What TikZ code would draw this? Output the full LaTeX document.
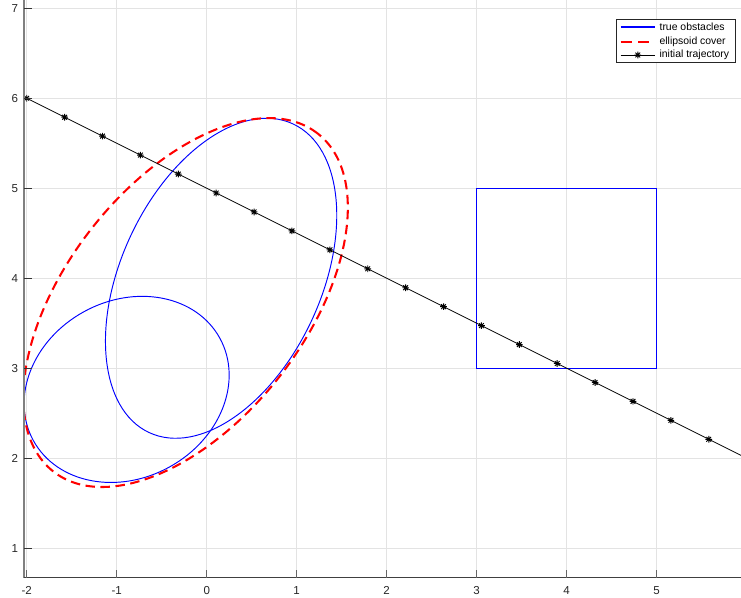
\documentclass[tikz,border=0pt]{standalone}
\usepackage{fontspec}
\setmainfont{Liberation Sans}
\usepackage{tikz}
\usetikzlibrary{positioning, calc}

\begin{document}
\begin{tikzpicture}[x=2cm, y=2cm,
  obst/.style={draw=blue, line width=0.6pt},
  cover/.style={draw=red, line width=1.3pt, dash pattern=on 6pt off 3.5pt},
  traj/.style={draw=black, line width=0.5pt},
  gridline/.style={draw=black!11, line width=0.5pt},
  ticklbl/.style={font=\fontsize{7.3}{8}\selectfont, text=black!85, inner sep=0pt},
  legtxt/.style={font=\fontsize{6.6}{7}\selectfont, anchor=west, inner sep=0pt},
  trajmark/.pic={\draw[line width=0.6pt] (-2.1pt,0pt) -- (2.1pt,0pt) (0pt,-2.1pt) -- (0pt,2.1pt)
      (-1.5pt,-1.5pt) -- (1.5pt,1.5pt) (-1.5pt,1.5pt) -- (1.5pt,-1.5pt);}
]

  % Frame
  \useasboundingbox (-2.297,0.448) rectangle (5.937,7.092);

  \begin{scope}
  \clip (-2.03,0.673) rectangle (5.937,7.092);

  % Grid
  \foreach \x in {-2,...,5}{
    \draw[gridline] (\x,0.673) -- (\x,7.092);
  }
  \foreach \y in {1,...,7}{
    \draw[gridline] (-2.03,\y) -- (5.937,\y);
  }

  % Obstacles
  \draw[obst, rotate around={28.8:(-0.89,2.765)}] (-0.89,2.765) ellipse [x radius=1.182, y radius=0.985];
  \draw[obst, rotate around={65:(0.16,4.0)}] (0.16,4.0) ellipse [x radius=1.892, y radius=1.110];
  \draw[obst] (3,3) rectangle (5,5);

  % Ellipsoid cover
  \draw[cover, rotate around={52:(-0.235,3.73)}] (-0.235,3.73) ellipse [x radius=2.384, y radius=1.329];

  % Initial trajectory
  \draw[traj] (-2,6) -- (6,2);
  \foreach \i in {0,...,19}{
    \pic at ({-2+8*\i/19},{6-4*\i/19}) {trajmark};
  }
  \end{scope}

  % Axes
  \draw[black!50, line width=0.9pt] (-2.03,0.673) -- (-2.03,7.092);
  \draw[black!75, line width=0.7pt] (-2.03,0.673) -- (5.937,0.673);
  \foreach \x in {-2,...,5}{
    \draw[black!60, line width=0.6pt] (\x,0.673) -- (\x,0.758);
    \node[ticklbl] (xl\x) at (\x,0.529) {\x};
  }
  \foreach \y in {1,...,7}{
    \draw[black!80, line width=0.6pt] (-2.03,\y) -- (-1.945,\y);
    \node[ticklbl, anchor=east] (yl\y) at (-2.093,\y) {\y};
  }

  % Legend
  \draw[fill=white, draw=black!85, line width=0.5pt] (4.556,6.396) rectangle (5.870,6.878);
  \draw[obst, line width=1pt] (4.6,6.789) -- (4.981,6.789);
  \node[legtxt] (lg1) at (5.029,6.789) {true obstacles};
  \draw[cover, dash pattern=on 7pt off 4pt] (4.6,6.630) -- (4.981,6.630);
  \node[legtxt] (lg2) at (5.029,6.630) {ellipsoid cover};
  \draw[traj] (4.6,6.481) -- (4.981,6.481);
  \pic at (4.79,6.481) {trajmark};
  \node[legtxt] (lg3) at (5.029,6.481) {initial trajectory};

\end{tikzpicture}
\end{document}
